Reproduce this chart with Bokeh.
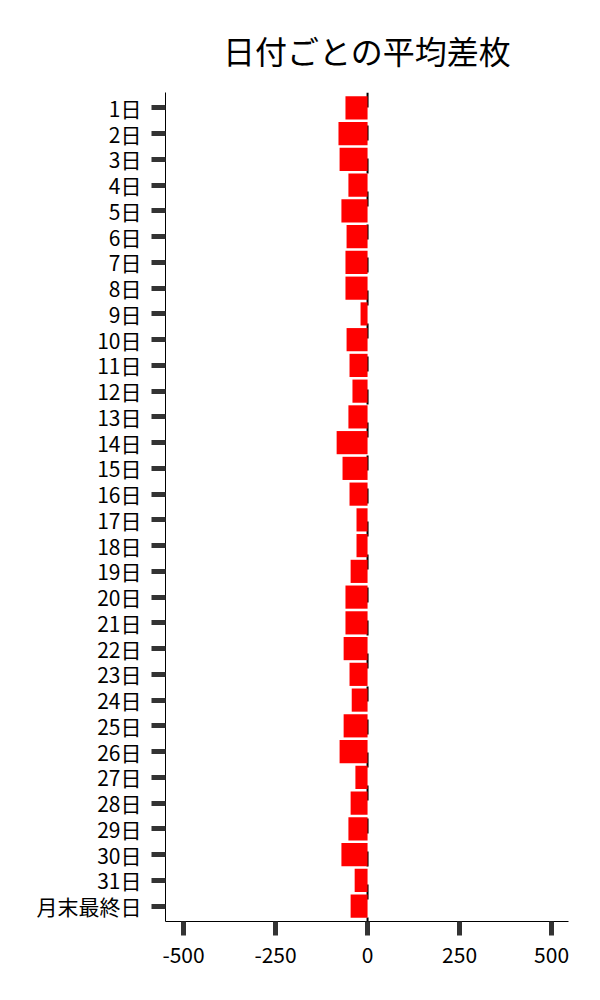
from bokeh.plotting import figure
from bokeh.models import FactorRange, Range1d, Span, FixedTicker
from bokeh.embed import file_html
from bokeh.resources import INLINE

title_text = "日付ごとの平均差枚"
days = ["1日", "2日", "3日", "4日", "5日", "6日", "7日", "8日", "9日", "10日",
        "11日", "12日", "13日", "14日", "15日", "16日", "17日", "18日", "19日", "20日",
        "21日", "22日", "23日", "24日", "25日", "26日", "27日", "28日", "29日", "30日",
        "31日", "月末最終日"]
avg_diff = [-60, -79, -76, -52, -71, -57, -60, -60, -19, -57,
            -49, -41, -52, -84, -68, -49, -30, -30, -46, -60,
            -60, -65, -49, -43, -65, -76, -33, -46, -52, -71,
            -35, -46]
x_ticks = [-500, -250, 0, 250, 500]
x_tick_labels = ["-500", "-250", "0", "250", "500"]

FONT = "Noto Sans CJK JP"

p = figure(width=584, height=984,
           y_range=FactorRange(factors=list(reversed(days)), range_padding=0.1,
                               range_padding_units="absolute"),
           x_range=Range1d(-549, 546),
           output_backend="svg", toolbar_location=None,
           title=title_text,
           min_border_left=165, min_border_right=16,
           min_border_top=92, min_border_bottom=63)

p.title.align = "center"
p.title.text_font = FONT
p.title.text_font_size = "32px"
p.title.text_font_style = "normal"
p.title.text_color = "#000000"
p.title.text_line_height = 0.6
p.title.standoff = 40

zero = Span(location=0, dimension="height", line_color="black", line_width=2,
            line_dash="15 18", level="underlay")
p.add_layout(zero)

p.hbar(y=days, left=avg_diff, right=0, height=0.9, fill_color="#ff0000",
       line_color=None)

p.xaxis.ticker = FixedTicker(ticks=x_ticks)
p.xaxis.major_label_overrides = {t: s for t, s in zip(x_ticks, x_tick_labels)}
for ax in (p.xaxis, p.yaxis):
    ax.axis_line_color = "black"
    ax.axis_line_width = 1
    ax.major_tick_line_color = "#333333"
    ax.major_tick_line_width = 5
    ax.major_tick_out = 14
    ax.major_tick_in = 0
    ax.minor_tick_line_color = None
    ax.major_label_text_font = FONT
    ax.major_label_text_font_size = "21px"
    ax.major_label_text_color = "#000000"
    ax.major_label_standoff = 10
p.xaxis.major_label_standoff = 11

p.xgrid.visible = False
p.ygrid.visible = False
p.outline_line_color = None
p.background_fill_color = "white"
p.border_fill_color = "white"

open("out.html", "w").write(file_html(p, INLINE))
